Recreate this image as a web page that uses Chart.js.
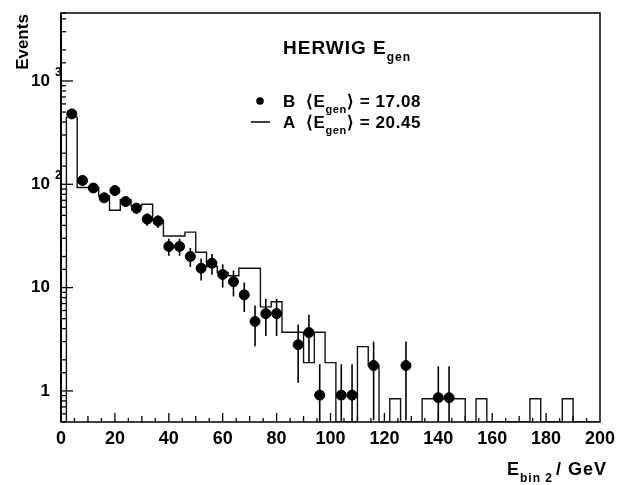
<!DOCTYPE html>
<html><head><meta charset="utf-8">
<script src="https://cdn.jsdelivr.net/npm/chart.js@4.4.1/dist/chart.umd.min.js"></script>
<style>html,body{margin:0;padding:0;background:#fff}#wrap{width:617px;height:485px}</style>
</head><body><div id="wrap"><canvas id="c" width="617" height="485"></canvas></div>
<script>
// ---- data ----
const binLowEdges = [2,6,10,14,18,22,26,30,34,38,42,46,50,54,58,62,66,70,74,78,82,86,90,94,98,102,106,110,114,118,122,126,130,134,138,142,146,150,154,158,162,166,170,174,178,182,186];
const binWidth = 4;
const seriesA = [447,93,93,77,56,71,62,64,45,31.6,31.6,34.4,22,16,14,13,15.4,15.4,6.5,7.3,3.7,3.7,1.88,3.7,1.88,0,0,2.68,1.76,0,0.84,0,0,0.84,0.84,0.84,0.84,0,0.84,0,0,0,0,0.84,0,0,0.84];
const pointsBx = [4,8,12,16,20,24,28,32,36,40,44,48,52,56,60,64,68,72,76,80,88,92,96,104,108,116,128,140,144];
const seriesB  = [480,109,92,74,87,68,58.7,46,44,25,25,20,15.4,17.2,13.4,11.4,8.5,4.7,5.6,5.6,2.8,3.67,0.91,0.91,0.91,1.76,1.76,0.86,0.86];
const errorsB  = [20.5,9.8,9.0,8.1,8.7,7.7,7.2,6.4,6.2,4.7,4.7,4.2,3.7,3.9,3.4,3.2,2.7,2.0,2.2,2.2,1.6,1.8,0.9,0.9,0.9,1.24,1.24,0.87,0.87];
const xTickLabels = ['0','20','40','60','80','100','120','140','160','180','200'];
const yTickLabels = {1:'1',10:'10',100:'10',1000:'10'};
const ySuperscripts = {100:'2',1000:'3'};
const X_MIN = 0, X_MAX = 200, Y_MIN = 0.5, Y_MAX = 4550;

// build datasets (each bin's value holds from its low edge to the next edge)
const histPts = [{x: binLowEdges[0], y: Y_MIN}];
binLowEdges.forEach((e,i)=>{ histPts.push({x:e, y: seriesA[i] > 0 ? seriesA[i] : Y_MIN}); });
histPts.push({x: binLowEdges[binLowEdges.length-1] + binWidth, y: Y_MIN});
histPts.push({x: X_MAX, y: Y_MIN});
const bPts = pointsBx.map((x,i)=>({x, y: seriesB[i]}));

const FONT = '"Liberation Sans", Arial, Helvetica, sans-serif';

function rich(ctx, x, y, parts, size, measureOnly) {
  let cx = x;
  parts.forEach(p => {
    const s = p.sub ? Math.round(size*0.64) : size;
    ctx.font = 'bold ' + s + 'px ' + FONT;
    const dy = p.sub ? size*0.38 : 0;
    if (!measureOnly) ctx.fillText(p.t, cx, y + dy);
    cx += ctx.measureText(p.t).width + (p.gap || 0);
  });
  return cx - x;
}

const deco = {
  id: 'deco',
  beforeDatasetsDraw(chart) {
    const {ctx, chartArea: a, scales: {x, y}} = chart;
    ctx.save();
    ctx.beginPath(); ctx.rect(a.left, a.top, a.right - a.left, a.bottom - a.top); ctx.clip();
    ctx.strokeStyle = '#000'; ctx.lineWidth = 1.6;
    pointsBx.forEach((bx, i) => {
      const v = seriesB[i], e = errorsB[i];
      const px = x.getPixelForValue(bx);
      const top = y.getPixelForValue(v + e);
      const lo = v - e;
      const bot = lo > Y_MIN ? y.getPixelForValue(lo) : a.bottom;
      ctx.beginPath(); ctx.moveTo(px, top); ctx.lineTo(px, bot); ctx.stroke();
    });
    ctx.restore();
  },
  afterDraw(chart) {
    const {ctx, chartArea: a, scales: {x, y}} = chart;
    ctx.save();
    ctx.strokeStyle = '#000'; ctx.fillStyle = '#000';
    // frame
    ctx.lineWidth = 1.5;
    ctx.strokeRect(a.left, a.top, a.right - a.left, a.bottom - a.top);
    ctx.lineWidth = 2;
    ctx.beginPath(); ctx.moveTo(a.left, a.top); ctx.lineTo(a.left, a.bottom); ctx.stroke();
    // y ticks (inward)
    ctx.lineWidth = 1.3;
    y.ticks.forEach(t => {
      const v = t.value; if (v < Y_MIN || v > Y_MAX) return;
      const lg = Math.log10(v);
      const major = Math.abs(lg - Math.round(lg)) < 1e-6;
      const p = y.getPixelForValue(v);
      ctx.beginPath(); ctx.moveTo(a.left, p); ctx.lineTo(a.left + (major ? 12 : 5), p); ctx.stroke();
    });
    // x ticks (inward)
    for (let v = X_MIN + 5; v < X_MAX; v += 5) {
      const p = x.getPixelForValue(v);
      const len = v % 20 === 0 ? 9 : (v % 10 === 0 ? 6 : 4);
      ctx.beginPath(); ctx.moveTo(p, a.bottom); ctx.lineTo(p, a.bottom - len); ctx.stroke();
    }
    // y superscripts
    ctx.font = 'bold 12px ' + FONT; ctx.textAlign = 'left'; ctx.textBaseline = 'alphabetic';
    Object.keys(ySuperscripts).forEach(k => {
      const p = y.getPixelForValue(+k);
      ctx.fillText(ySuperscripts[k], 55, p - 5);
    });
    // axis titles
    ctx.save();
    ctx.translate(28, 42); ctx.rotate(-Math.PI/2);
    ctx.font = 'bold 17px ' + FONT; ctx.textAlign = 'center'; ctx.textBaseline = 'alphabetic';
    ctx.fillText('Events', 0, 0);
    ctx.restore();
    ctx.textAlign = 'left';
    ctx.letterSpacing = '1px';
    const xt = [{t:'E'},{t:'bin 2', sub:true, gap:3},{t:'/ GeV'}];
    const w = rich(ctx, 0, 0, xt, 18, true);
    rich(ctx, 607 - w, 475, xt, 18);
    // title and legend
    ctx.letterSpacing = '1px';
    rich(ctx, 283, 54, [{t:'HERWIG E'},{t:'gen', sub:true}], 19);
    ctx.letterSpacing = '0.6px';
    ctx.beginPath(); ctx.arc(260, 101, 3.8, 0, Math.PI*2); ctx.fill();
    rich(ctx, 283, 107, [{t:'B', gap:10},{t:'\u27E8E'},{t:'gen', sub:true},{t:'\u27E9 = 17.08'}], 17);
    ctx.lineWidth = 1.5;
    ctx.beginPath(); ctx.moveTo(251, 122); ctx.lineTo(270, 122); ctx.stroke();
    rich(ctx, 283, 128, [{t:'A', gap:10},{t:'\u27E8E'},{t:'gen', sub:true},{t:'\u27E9 = 20.45'}], 17);
    ctx.restore();
  }
};

new Chart(document.getElementById('c'), {
  type: 'scatter',
  data: { datasets: [
    { type: 'line', label: 'A', data: histPts, stepped: 'before', borderColor: '#111', borderWidth: 1.4, pointRadius: 0, fill: false, order: 2 },
    { type: 'scatter', label: 'B', data: bPts, backgroundColor: '#000', borderColor: '#000', pointRadius: 5, pointStyle: 'circle', order: 1 }
  ]},
  options: {
    responsive: false, animation: false, devicePixelRatio: 1,
    layout: { padding: { top: 13, right: 17, left: 0, bottom: 0 } },
    plugins: { legend: { display: false }, tooltip: { enabled: false } },
    scales: {
      x: { type: 'linear', min: X_MIN, max: X_MAX,
           afterFit(s) { s.height = 63; s.paddingLeft = 0; s.paddingRight = 0; },
           grid: { display: false, drawTicks: false }, border: { display: false },
           ticks: { stepSize: 20, padding: 6, color: '#000', maxRotation: 0, autoSkip: false,
                    font: { family: FONT, weight: 'bold', size: 18 },
                    callback: (v) => xTickLabels[Math.round(v/20)] } },
      y: { type: 'logarithmic', min: Y_MIN, max: Y_MAX,
           afterFit(s) { s.width = 61; s.paddingTop = 0; s.paddingBottom = 0; },
           grid: { display: false, drawTicks: false }, border: { display: false },
           ticks: { autoSkip: false, padding: 11, color: '#000',
                    font: { family: FONT, weight: 'bold', size: 17 },
                    callback: (v) => { const k = Math.round(v); return (Math.abs(v-k)<1e-9 && yTickLabels[k]) ? yTickLabels[k] : ''; } } }
    }
  },
  plugins: [deco]
});
</script></body></html>
